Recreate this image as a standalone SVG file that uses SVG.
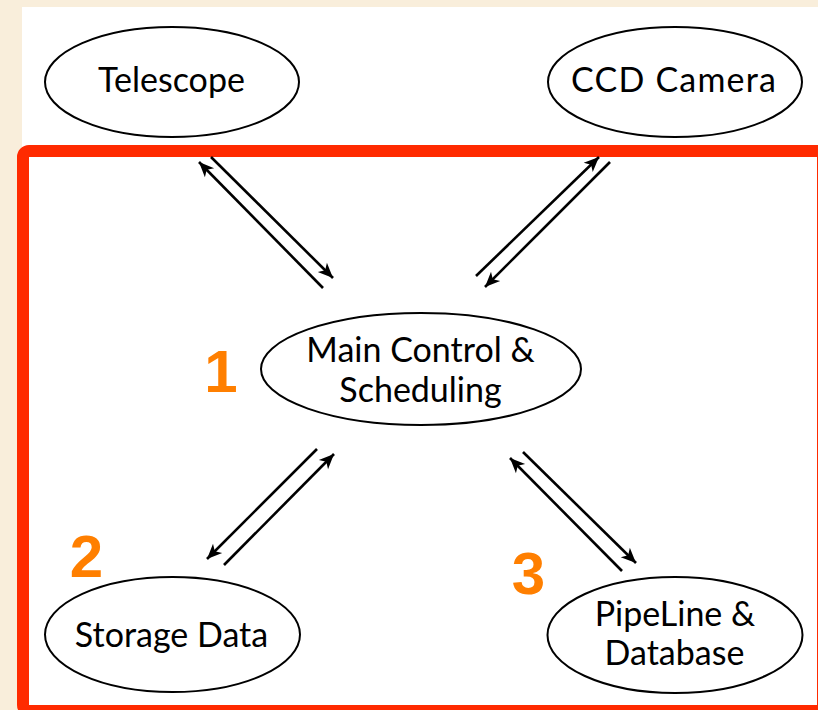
<svg xmlns="http://www.w3.org/2000/svg" width="818" height="710" viewBox="0 0 818 710">
  <style>
    .node ellipse { fill: #ffffff; stroke: #000000; stroke-width: 2; }
    .label { font-family: Lato, "Open Sans", "Liberation Sans", sans-serif; font-size: 34px; fill: #000000; text-anchor: middle; }
    .conn line { stroke: #000000; stroke-width: 2.6; marker-end: url(#arrow); }
    .num { font-family: "Liberation Sans", Arial, sans-serif; font-weight: bold; font-size: 60px; fill: #ff7f00; text-anchor: middle; }
  </style>
  <defs>
    <marker id="arrow" markerUnits="userSpaceOnUse" viewBox="-16 -8 17 16" refX="0" refY="0" markerWidth="17" markerHeight="16" orient="auto">
      <path d="M0,0 L-15,-6.5 L-11,0 L-15,6.5 Z" fill="#000000"/>
    </marker>
  </defs>
  <rect x="0" y="0" width="818" height="710" fill="#f9eedb"/>
  <rect x="22" y="7" width="796" height="703" fill="#ffffff"/>
  <rect id="boundary" x="23" y="151" width="800" height="560" rx="6" fill="none" stroke="#ff2a00" stroke-width="12"/>

  <g id="connectors" class="conn">
    <line x1="323" y1="288" x2="199" y2="162"/>
    <line x1="211" y1="157" x2="333" y2="278"/>
    <line x1="476" y1="276" x2="599" y2="157"/>
    <line x1="610" y1="162" x2="485" y2="287"/>
    <line x1="317" y1="449" x2="207" y2="559"/>
    <line x1="224" y1="565" x2="334" y2="454"/>
    <line x1="622" y1="571" x2="510" y2="458"/>
    <line x1="523" y1="452" x2="636" y2="563"/>
  </g>

  <g id="telescope" class="node">
    <ellipse cx="172" cy="82" rx="127" ry="55"/>
    <text class="label" x="171.5" y="92">Telescope</text>
  </g>
  <g id="ccd-camera" class="node">
    <ellipse cx="675" cy="82" rx="127" ry="55"/>
    <text class="label" x="673.5" y="92" textLength="205">CCD Camera</text>
  </g>
  <g id="main-control" class="node">
    <ellipse cx="421" cy="369" rx="160" ry="56"/>
    <text class="label" x="420.5" y="362">Main Control &amp;</text>
    <text class="label" x="420.5" y="402">Scheduling</text>
  </g>
  <g id="storage-data" class="node">
    <ellipse cx="172.5" cy="634.5" rx="127.5" ry="57.5"/>
    <text class="label" x="171.5" y="647">Storage Data</text>
  </g>
  <g id="pipeline-database" class="node">
    <ellipse cx="675" cy="635" rx="127.5" ry="58"/>
    <text class="label" x="675" y="626">PipeLine &amp;</text>
    <text class="label" x="674.5" y="665">Database</text>
  </g>

  <g id="numbers">
    <text class="num" x="221" y="392">1</text>
    <text class="num" x="86.5" y="577">2</text>
    <text class="num" x="528.5" y="594">3</text>
  </g>
</svg>
